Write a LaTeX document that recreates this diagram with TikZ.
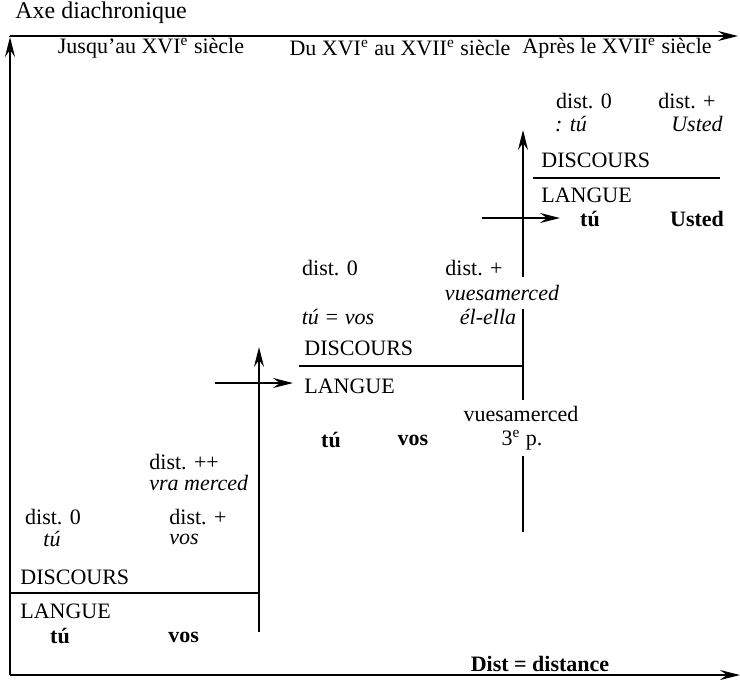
\documentclass[tikz,border=0pt]{standalone}
\usepackage{fontspec}
\setmainfont{Liberation Serif}
\usetikzlibrary{arrows.meta}

\begin{document}
\begin{tikzpicture}[
  x=0.5pt, y=-0.5pt,
  txt/.style={inner sep=1pt, font=\fontsize{11}{13}\selectfont},
  ital/.style={txt, font=\fontsize{11}{13}\selectfont\itshape},
  bld/.style={txt, font=\fontsize{11}{13}\selectfont\bfseries},
  gap/.style={fill=white, inner ysep=3pt},
  sep/.style={line width=0.8pt},
  arr/.style={line width=0.8pt, -{Stealth[length=10pt,width=5pt,inset=3.5pt]}}
]
\useasboundingbox (0,0) rectangle (740,682);

% axes
\coordinate (orig) at (10,675);
\coordinate (ytop) at (10,37);
\coordinate (tl) at (10,36);
\coordinate (tr) at (738,36);
\coordinate (br) at (740,675);
\draw[sep] (tl) -- (ytop);
\draw[arr] (orig) -- (ytop);
\draw[arr] (tl) -- (tr);
\draw[arr] (orig) -- (br);
\node[txt, anchor=west, font=\fontsize{12}{14}\selectfont] (axe) at (13,13) {Axe diachronique};
\node[bld] (dist) at (540,664) {Dist = distance};

% periods
\node[txt] (per1) at (151,48) {Jusqu'au XVI\textsuperscript{e} siècle};
\node[txt] (per2) at (400,48) {Du XVI\textsuperscript{e} au XVII\textsuperscript{e} siècle};
\node[txt] (per3) at (617,48) {Après le XVII\textsuperscript{e} siècle};

% stage 1
\coordinate (v1b) at (259,632);
\coordinate (v1t) at (259,347);
\coordinate (s1l) at (10,593);
\coordinate (s1r) at (259,593);
\draw[arr] (v1b) -- (v1t);
\draw[sep] (s1l) -- (s1r);
\node[txt, anchor=west] (a1pp) at (147,462) {dist. ++};
\node[ital, anchor=west] (a1vra) at (147,483) {vra merced};
\node[txt] (a1d0) at (53,517) {dist. 0};
\node[txt, anchor=west] (a1dp) at (167,517) {dist. +};
\node[ital] (a1tu) at (52,539) {tú};
\node[ital, anchor=west] (a1vos) at (167,539) {vos};
\node[txt, anchor=west] (a1disc) at (18,577) {DISCOURS};
\node[txt, anchor=west] (a1lang) at (18,611) {LANGUE};
\node[bld] (l1tu) at (60,636) {tú};
\node[bld, anchor=west] (l1vos) at (166,637) {vos};

% stage 3 line, broken by the texts of stage 2
\coordinate (v3b) at (523,532);
\coordinate (v3t) at (523,130);
\draw[arr] (v3b) -- (v3t);
\node[ital, gap, inner ysep=4pt] (a2vsm) at (502,293) {vuesamerced};
\node[txt, gap] (l2vsm) at (521,414) {vuesamerced};
\node[txt, gap] (l2p) at (522,440) {3\textsuperscript{e} p.};

% stage 2
\coordinate (h2a) at (215,383);
\coordinate (h2b) at (293,383);
\coordinate (s2l) at (299,366);
\coordinate (s2r) at (523,366);
\draw[arr] (h2a) -- (h2b);
\draw[sep] (s2l) -- (s2r);
\node[txt] (a2d0) at (330,268) {dist. 0};
\node[txt] (a2dp) at (474,268) {dist. +};
\node[ital] (a2tv) at (338,317) {tú = vos};
\node[ital] (a2el) at (488,317) {él-ella};
\node[txt, anchor=west] (a2disc) at (302,348) {DISCOURS};
\node[txt, anchor=west] (a2lang) at (302,386) {LANGUE};
\node[bld] (l2tu) at (331,440) {tú};
\node[bld] (l2vos) at (413,440) {vos};

% stage 3
\coordinate (h3a) at (482,218);
\coordinate (h3b) at (560,218);
\coordinate (s3l) at (533,178);
\coordinate (s3r) at (720,178);
\draw[arr] (h3a) -- (h3b);
\draw[sep] (s3l) -- (s3r);
\node[txt] (a3d0) at (584,101) {dist. 0};
\node[txt] (a3dp) at (687,101) {dist. +};
\node[ital] (a3tu) at (571,124) {: tú};
\node[ital] (a3us) at (697,124) {Usted};
\node[txt, anchor=west] (a3disc) at (539,160) {DISCOURS};
\node[txt, anchor=west] (a3lang) at (539,195) {LANGUE};
\node[bld] (l3tu) at (590,219) {tú};
\node[bld] (l3us) at (697,219) {Usted};
\end{tikzpicture}
\end{document}
